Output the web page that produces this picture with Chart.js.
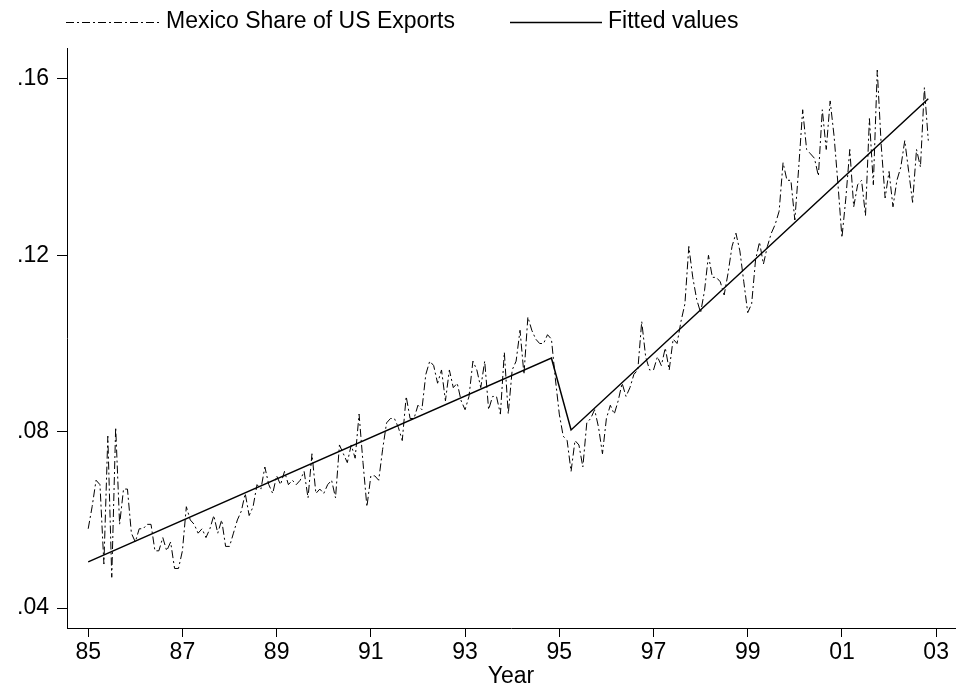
<!DOCTYPE html>
<html>
<head>
<meta charset="utf-8">
<title>Mexico Share of US Exports</title>
<script src="https://cdn.jsdelivr.net/npm/chart.js@4.4.1/dist/chart.umd.min.js"></script>
<style>
  html, body { margin: 0; padding: 0; background: #fff; }
  #chart { display: block; }
</style>
</head>
<body>
<canvas id="chart" width="958" height="692"></canvas>
<script>
// monthly series, starting 1985m1
const startYear = 1985;
const mexicoShare = [
  // 1985
  0.058, 0.063, 0.069, 0.068, 0.050, 0.079, 0.047, 0.081, 0.059, 0.067, 0.067, 0.057,
  // 1986
  0.055, 0.058, 0.058, 0.059, 0.059, 0.053, 0.053, 0.056, 0.053, 0.055, 0.049, 0.049,
  // 1987
  0.053, 0.063, 0.060, 0.059, 0.057, 0.058, 0.056, 0.058, 0.061, 0.057, 0.060, 0.054,
  // 1988
  0.054, 0.057, 0.060, 0.062, 0.066, 0.061, 0.063, 0.068, 0.067, 0.072, 0.068, 0.066,
  // 1989
  0.070, 0.068, 0.071, 0.068, 0.069, 0.068, 0.069, 0.071, 0.065, 0.075, 0.066, 0.067,
  // 1990
  0.066, 0.068, 0.069, 0.065, 0.077, 0.075, 0.073, 0.077, 0.074, 0.084, 0.073, 0.063,
  // 1991
  0.070, 0.070, 0.069, 0.076, 0.082, 0.083, 0.083, 0.081, 0.078, 0.088, 0.083, 0.083,
  // 1992
  0.086, 0.085, 0.093, 0.096, 0.095, 0.091, 0.094, 0.087, 0.094, 0.090, 0.091, 0.087,
  // 1993
  0.085, 0.088, 0.096, 0.094, 0.090, 0.096, 0.085, 0.088, 0.088, 0.084, 0.098, 0.084,
  // 1994
  0.094, 0.096, 0.103, 0.093, 0.106, 0.103, 0.101, 0.100, 0.100, 0.102, 0.101, 0.092,
  // 1995
  0.084, 0.079, 0.078, 0.071, 0.078, 0.077, 0.072, 0.082, 0.083, 0.085, 0.081, 0.075,
  // 1996
  0.083, 0.086, 0.084, 0.087, 0.091, 0.088, 0.090, 0.093, 0.094, 0.105, 0.097, 0.094,
  // 1997
  0.094, 0.097, 0.095, 0.099, 0.094, 0.101, 0.100, 0.105, 0.109, 0.122, 0.115, 0.110,
  // 1998
  0.107, 0.112, 0.120, 0.115, 0.115, 0.114, 0.111, 0.116, 0.122, 0.125, 0.121, 0.114,
  // 1999
  0.107, 0.109, 0.119, 0.123, 0.118, 0.122, 0.125, 0.127, 0.130, 0.141, 0.137, 0.137,
  // 2000
  0.128, 0.140, 0.153, 0.144, 0.143, 0.142, 0.138, 0.153, 0.144, 0.155, 0.147, 0.136,
  // 2001
  0.124, 0.133, 0.144, 0.131, 0.136, 0.137, 0.129, 0.151, 0.136, 0.162, 0.145, 0.133,
  // 2002 (to Nov)
  0.139, 0.131, 0.137, 0.140, 0.146, 0.139, 0.132, 0.144, 0.140, 0.158, 0.146
];

// fitted values: two linear trends with a break after the peso crisis
const fittedDates = [1985.0, 1994.833, 1995.25, 2002.833];
const fittedValues = [0.0505, 0.0967, 0.0804, 0.1555];

const xTickValues = [1985, 1987, 1989, 1991, 1993, 1995, 1997, 1999, 2001, 2003];
const xTickLabels = ['85', '87', '89', '91', '93', '95', '97', '99', '01', '03'];
const yTickValues = [0.04, 0.08, 0.12, 0.16];
const yTickLabels = ['.04', '.08', '.12', '.16'];

const seriesNames = ['Mexico Share of US Exports', 'Fitted values'];

const FONT = "'Liberation Sans', Arial, Helvetica, sans-serif";

const sharePoints = mexicoShare.map((v, i) => ({ x: startYear + i / 12, y: v }));
const fittedPoints = fittedDates.map((d, i) => ({ x: d, y: fittedValues[i] }));

// Stata-style legend across the top
const topLegend = {
  id: 'topLegend',
  afterDraw(chart) {
    const ctx = chart.ctx;
    const items = [
      { x0: 66, x1: 162, tx: 166 },
      { x0: 510, x1: 602, tx: 608 }
    ];
    const y = 22;
    ctx.save();
    items.forEach((it, i) => {
      const ds = chart.data.datasets[i];
      ctx.beginPath();
      ctx.lineWidth = ds.borderWidth;
      ctx.strokeStyle = ds.borderColor;
      ctx.setLineDash(ds.borderDash || []);
      ctx.moveTo(it.x0, y + 0.5);
      ctx.lineTo(it.x1, y + 0.5);
      ctx.stroke();
      ctx.setLineDash([]);
      ctx.fillStyle = '#000';
      ctx.font = '23px ' + FONT;
      ctx.textAlign = 'left';
      ctx.textBaseline = 'middle';
      ctx.fillText(ds.label, it.tx, y);
    });
    ctx.restore();
  }
};

const ctx = document.getElementById('chart');
new Chart(ctx, {
  type: 'line',
  data: {
    datasets: [
      {
        label: seriesNames[0],
        data: sharePoints,
        borderColor: '#000',
        borderWidth: 1,
        borderDash: [8, 3, 2, 3],
        pointRadius: 0,
        tension: 0,
        fill: false
      },
      {
        label: seriesNames[1],
        data: fittedPoints,
        borderColor: '#000',
        borderWidth: 1.5,
        pointRadius: 0,
        tension: 0,
        fill: false
      }
    ]
  },
  options: {
    responsive: false,
    animation: false,
    layout: { padding: { top: 48, right: 3, left: 0, bottom: 0 } },
    plugins: {
      legend: { display: false },
      tooltip: { enabled: false }
    },
    scales: {
      x: {
        type: 'linear',
        min: 1984.55,
        max: 2003.4,
        afterBuildTicks: s => { s.ticks = xTickValues.map(v => ({ value: v })); },
        afterFit: s => { s.height = 64; },
        grid: { drawOnChartArea: false, drawTicks: true, tickLength: 9, color: '#000' },
        border: { display: true, color: '#000', width: 1 },
        ticks: {
          color: '#000',
          padding: 2,
          maxRotation: 0,
          font: { family: FONT, size: 23 },
          callback: (v, i) => xTickLabels[i]
        },
        title: {
          display: true,
          text: 'Year',
          color: '#000',
          padding: { top: 0, bottom: 2 },
          font: { family: FONT, size: 23 }
        }
      },
      y: {
        type: 'linear',
        min: 0.0355,
        max: 0.167,
        afterBuildTicks: s => { s.ticks = yTickValues.map(v => ({ value: v })); },
        afterFit: s => { s.width = 67; },
        grid: { drawOnChartArea: false, drawTicks: true, tickLength: 10, color: '#000' },
        border: { display: true, color: '#000', width: 1 },
        ticks: {
          color: '#000',
          padding: 8,
          font: { family: FONT, size: 23 },
          callback: (v, i) => yTickLabels[i]
        }
      }
    }
  },
  plugins: [topLegend]
});
</script>
</body>
</html>
